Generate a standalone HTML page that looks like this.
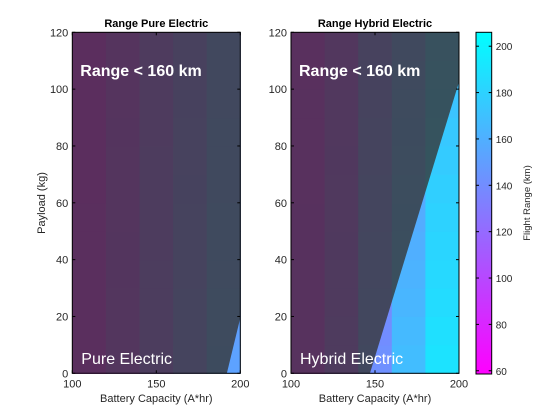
<!DOCTYPE html>
<html><head><meta charset="utf-8"><style>
html,body{margin:0;padding:0;background:#fff}
svg{display:block;font-family:"Liberation Sans",Arial,sans-serif}
</style></head><body>
<svg id="c" width="560" height="420" viewBox="0 0 560 420"></svg>
<script>
const xEdges=[100,120,140,160,180,200];
const yEdges=[0,10,20,30,40,50,60,70,80,90,100,110,120];
const xTicks=[100,150,200];
const yTicks=[0,20,40,60,80,100,120];
const cbTicks=[60,80,100,120,140,160,180,200];
// rows bottom (0-10 kg) to top; cols 100-120 ... 180-200
const pureVals=[
[72,92,112,132,152],[72,91,111,131,151],[71,91,110,130,150],[71,90,110,129,149],
[70,90,109,128,148],[70,89,108,128,147],[69,88,108,127,146],[69,88,107,126,145],
[68,87,106,125,144],[68,86,106,124,143],[67,86,105,123,142],[67,85,104,122,141]];
const hybridVals=[
[80,105,142,168,190],[80,104,140,166,188],[79,103,139,164,186],[79,102,137,162,184],
[78,101,136,160,182],[78,100,134,158,180],[77,99,133,156,178],[77,98,131,154,176],
[76,97,130,152,174],[76,96,128,150,172],[75,95,127,148,170],[75,94,125,146,168]];
// 160 km contour (battery, payload)
const pureContour=[[192,0],[200,19.5]];
const hybridContour=[[147,0],[200,102.5]];
const cMin=58.6,cMax=206;
const svg=document.getElementById('c');
const NS='http://www.w3.org/2000/svg';
function mk(t,a,p){const e=document.createElementNS(NS,t);for(const k in a)e.setAttribute(k,a[k]);(p||svg).appendChild(e);return e;}
function cmap(v){let t=(v-cMin)/(cMax-cMin);t=Math.max(0,Math.min(1,t));return `rgb(${Math.round(255*(1-t))},${Math.round(255*t)},255)`;}
const Y0=373.3,Y1=32.3;
function yS(v){return Y0-(v-0)/120*(Y0-Y1);}
function panel(x0,x1,vals,contour,title,label,name){
  const xS=v=>x0+(v-100)/100*(x1-x0);
  const g=mk('g',{});
  
  
  for(let r=0;r<vals.length;r++)for(let c=0;c<vals[r].length;c++){
    const e=mk('rect',{x:xS(xEdges[c]),y:yS(yEdges[r+1]),width:xS(xEdges[c+1])-xS(xEdges[c])+0.5,height:yS(yEdges[r])-yS(yEdges[r+1])+0.5,fill:cmap(vals[r][c])},g);
    
    
  }
  // dark overlay where range < 160
  const pts=[[100,0],...contour,[200,120],[100,120]];
  const ov=mk('polygon',{points:pts.map(p=>xS(p[0])+','+yS(p[1])).join(' '),fill:'rgb(54,54,54)','fill-opacity':0.8},g);
  
  
  const bx=mk('rect',{x:x0,y:Y1,width:x1-x0,height:Y0-Y1,fill:'none',stroke:'#000','stroke-width':1},g);
  
  
  xTicks.forEach(v=>{
    mk('line',{x1:xS(v),x2:xS(v),y1:Y0,y2:Y0-3,stroke:'#000'},g);
    mk('line',{x1:xS(v),x2:xS(v),y1:Y1,y2:Y1+3,stroke:'#000'},g);
    const t=mk('text',{x:xS(v),y:Y0+14,'text-anchor':'middle','font-size':11,fill:'#262626'},g);t.textContent=v;
    
    
  });
  yTicks.forEach(v=>{
    mk('line',{x1:x0,x2:x0+3,y1:yS(v),y2:yS(v),stroke:'#000'},g);
    mk('line',{x1:x1,x2:x1-3,y1:yS(v),y2:yS(v),stroke:'#000'},g);
    const t=mk('text',{x:x0-4,y:yS(v)+4,'text-anchor':'end','font-size':11,fill:'#262626'},g);t.textContent=v;
    
    
  });
  let t=mk('text',{x:(x0+x1)/2,y:27,'text-anchor':'middle','font-size':11,'font-weight':'bold',fill:'#000'},g);t.textContent=title;
  
  
  t=mk('text',{x:(x0+x1)/2,y:402,'text-anchor':'middle','font-size':11,fill:'#262626'},g);t.textContent='Battery Capacity (A*hr)';
  
  
  t=mk('text',{x:x0+8,y:76,'font-size':16,'font-weight':'bold',fill:'#fff'},g);t.textContent='Range < 160 km';
  
  
  t=mk('text',{x:x0+9,y:364,'font-size':16,fill:'#fff'},g);t.textContent=label;
  
  
}
panel(72.3,240.3,pureVals,pureContour,'Range Pure Electric','Pure Electric','pure-electric-panel');
panel(291,459,hybridVals,hybridContour,'Range Hybrid Electric','Hybrid Electric','hybrid-electric-panel');
let yt=mk('text',{x:0,y:0,transform:'translate(45,203) rotate(-90)','text-anchor':'middle','font-size':11,fill:'#262626'});yt.textContent='Payload (kg)';


// colorbar
const cb=mk('g',{});


const defs=mk('defs',{},cb);
const lg=mk('linearGradient',{id:'cg',x1:0,y1:1,x2:0,y2:0},defs);
mk('stop',{offset:0,'stop-color':'rgb(255,0,255)'},lg);
mk('stop',{offset:1,'stop-color':'rgb(0,255,255)'},lg);
const CX0=476,CX1=491.7,CY0=374,CY1=32.3;
const cS=v=>CY0-(v-cMin)/(cMax-cMin)*(CY0-CY1);
mk('rect',{x:CX0,y:CY1,width:CX1-CX0,height:CY0-CY1,fill:'url(#cg)',stroke:'#000','stroke-width':1},cb);
cbTicks.forEach(v=>{
  mk('line',{x1:CX0,x2:CX0+3,y1:cS(v),y2:cS(v),stroke:'#000'},cb);
  mk('line',{x1:CX1,x2:CX1-3,y1:cS(v),y2:cS(v),stroke:'#000'},cb);
  const t=mk('text',{x:CX1+4,y:cS(v)+4,'font-size':10,fill:'#262626'},cb);t.textContent=v;
  
  
});
const cl=mk('text',{x:0,y:0,transform:'translate(530,203) rotate(-90)','text-anchor':'middle','font-size':9.5,fill:'#262626'},cb);cl.textContent='Flight Range (km)';


</script>
</body></html>
